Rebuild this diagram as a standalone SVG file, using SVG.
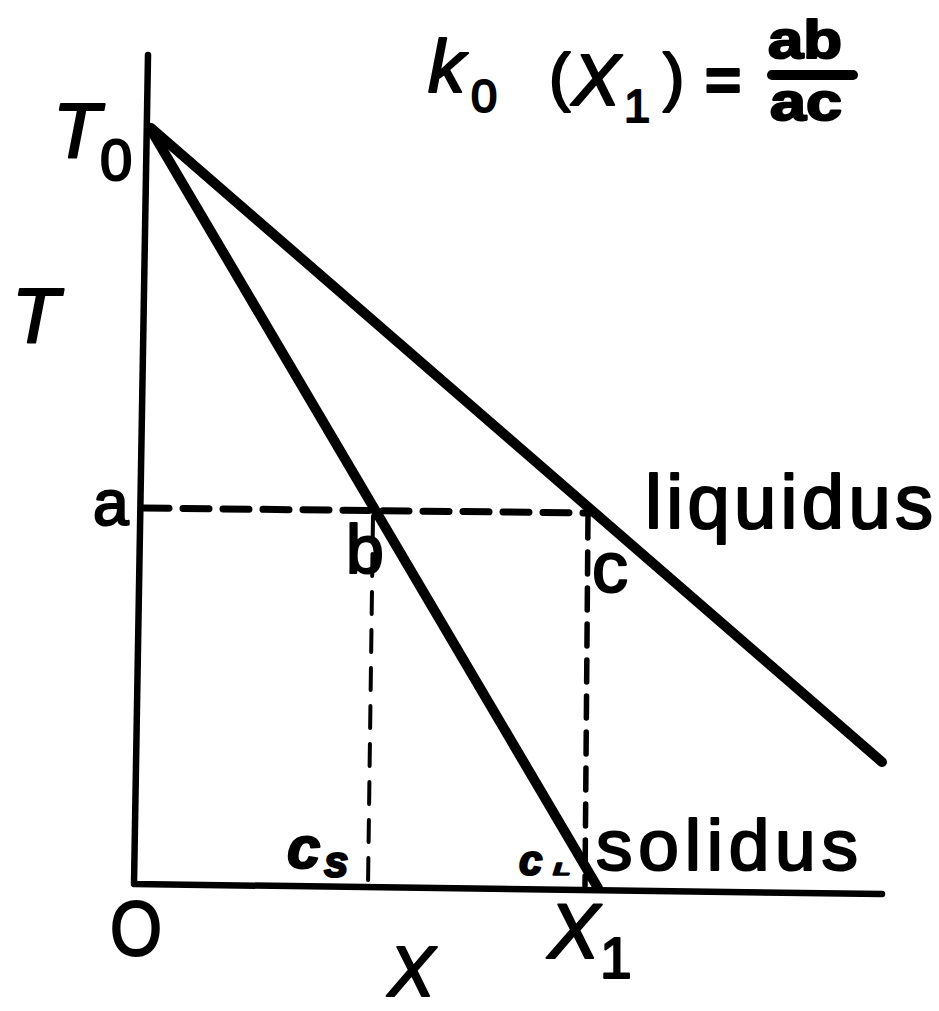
<svg xmlns="http://www.w3.org/2000/svg" width="939" height="1011" viewBox="0 0 939 1011">
<style>
.ln{fill:none;stroke:#000;stroke-linecap:round;stroke-linejoin:round}
.t{font-family:"Liberation Sans",Arial,sans-serif;fill:#000;stroke:#000;stroke-width:2.2;stroke-linejoin:round}
.i{font-style:italic}
.b{font-weight:bold}
</style>
<rect width="939" height="1011" fill="#fff"/>
<g id="axes">
<path class="ln" d="M148,55 L134,884 L882,894" stroke-width="6.5"/>
</g>
<g id="connectors">
<path id="liquidus-line" class="ln" d="M151,128 L882,762" stroke-width="10"/>
<path id="solidus-line" class="ln" d="M151,130 L598,888" stroke-width="10"/>
<path id="tie-line" class="ln" d="M143,508 L590,513" stroke-width="7" stroke-dasharray="26 14" stroke-linecap="butt"/>
<path id="drop-b" class="ln" d="M373,516 L368,886" stroke-width="4" stroke-dasharray="22 16" stroke-linecap="butt"/>
<path id="drop-c" class="ln" d="M588,516 L585,886" stroke-width="5.5" stroke-dasharray="22 14" stroke-linecap="butt"/>
</g>
<g id="formula">
<text class="t i" x="428" y="92" font-size="74">k</text>
<text class="t" x="471" y="112" font-size="47">0</text>
<text class="t" x="549" y="99" font-size="64">(</text>
<text class="t i" x="572" y="105" font-size="72">X</text>
<text class="t" x="624" y="122" font-size="47">1</text>
<text class="t" x="663" y="99" font-size="64">)</text>
<text class="t b" x="705" y="101" font-size="62">=</text>
<text class="t b" x="768" y="58" font-size="54" textLength="74" lengthAdjust="spacingAndGlyphs">ab</text>
<path class="ln" d="M772,75 L853,75" stroke-width="10"/>
<text class="t b" x="770" y="120" font-size="54" textLength="72" lengthAdjust="spacingAndGlyphs">ac</text>
</g>
<g id="label-T0">
<text class="t i" x="53" y="158" font-size="77">T</text>
<text class="t" x="100" y="180" font-size="58">0</text>
</g>
<g id="label-T">
<text class="t i" x="12" y="343" font-size="77">T</text>
</g>
<g id="label-a"><text class="t" x="93" y="525" font-size="64">a</text></g>
<g id="label-b"><text class="t" x="346" y="573" font-size="68">b</text></g>
<g id="label-c"><text class="t" x="592" y="592" font-size="72">c</text></g>
<g id="label-liquidus"><text class="t" x="645" y="528" font-size="76" textLength="288" lengthAdjust="spacing">liquidus</text></g>
<g id="label-solidus"><text class="t" x="596" y="870" font-size="73" textLength="262" lengthAdjust="spacing">solidus</text></g>
<g id="label-cs">
<text class="t i b" x="287" y="868" font-size="60">c</text>
<text class="t i b" x="324" y="877" font-size="44">s</text>
</g>
<g id="label-cL">
<text class="t i b" x="519" y="875" font-size="42">c</text>
<text class="t i b" transform="translate(553,875) scale(1.1,0.6)" font-size="26">L</text>
</g>
<g id="label-O"><text class="t" x="110" y="955" font-size="78" textLength="52" lengthAdjust="spacingAndGlyphs">O</text></g>
<g id="label-X1">
<text class="t i" x="548" y="958" font-size="77">X</text>
<text class="t" x="600" y="978" font-size="57">1</text>
</g>
<g id="label-X"><text class="t i" x="388" y="996" font-size="70">X</text></g>
</svg>
